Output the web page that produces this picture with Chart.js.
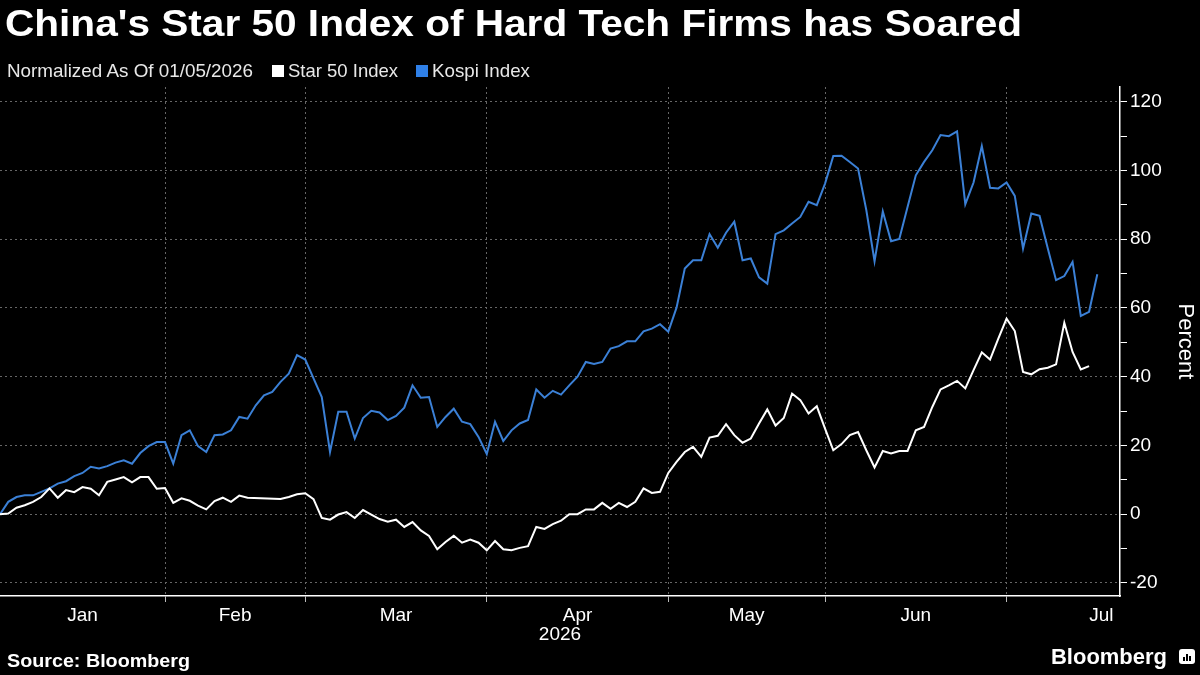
<!DOCTYPE html>
<html>
<head>
<meta charset="utf-8">
<script src="https://cdn.jsdelivr.net/npm/chart.js@4.4.1/dist/chart.umd.min.js"></script>
<style>
html, body { margin: 0; padding: 0; background: #000; }
#wrap { position: relative; width: 1200px; height: 675px; overflow: hidden; background: #000; font-family: "Liberation Sans", Arial, sans-serif; color: #fff; }
#chart { position: absolute; left: 0; top: 0; }
.txt { position: absolute; white-space: nowrap; line-height: 1; transform-origin: 0 50%; }
#title { left: 5px; top: 5px; font-size: 37.7px; font-weight: bold; }
.leg { top: 61px; font-size: 19px; color: #e8e8e8; }
.sq { position: absolute; top: 65px; width: 12px; height: 12px; }
#source { left: 7px; top: 652px; font-size: 18px; font-weight: bold; }
#brand { left: 1051px; top: 646px; font-size: 22px; font-weight: bold; }
#icon { position: absolute; left: 1179px; top: 649px; width: 16px; height: 15px; background: #fff; border-radius: 3px; }
#icon i { position: absolute; bottom: 3px; width: 2px; background: #000; }
</style>
</head>
<body>
<div id="wrap">
  <canvas id="chart" width="1200" height="675"></canvas>
  <div class="txt" id="title">China's Star 50 Index of Hard Tech Firms has Soared</div>
  <div class="txt leg" id="note" style="left:7px">Normalized As Of 01/05/2026</div>
  <div class="sq" style="left:272px;background:#fff"></div>
  <div class="txt leg" id="legStar" style="left:288px">Star 50 Index</div>
  <div class="sq" style="left:416px;background:#2f80e8"></div>
  <div class="txt leg" id="legKospi" style="left:432px">Kospi Index</div>
  <div class="txt" id="source">Source: Bloomberg</div>
  <div class="txt" id="brand">Bloomberg</div>
  <div id="icon"><i style="left:4px;height:4px"></i><i style="left:7px;height:7px"></i><i style="left:10px;height:5px"></i></div>
</div>
<script>
"use strict";

// trading-day index where each month begins (Jan 5 2026 = 0)
const monthStarts = [0, 20, 37, 59, 81, 100, 122, 145];
const monthNames = ["Jan", "Feb", "Mar", "Apr", "May", "Jun", "Jul"];
const yearLabel = "2026";

const kospi = [
	0, 3.6, 5.0, 5.5, 5.5, 6.5, 7.5, 8.9, 9.6, 11.1,
	12.0, 13.8, 13.3, 14.0, 15.0, 15.7, 14.7, 17.8, 19.8, 21.0,
	21.0, 14.7, 23.0, 24.4, 19.8, 18.1, 23.0, 23.2, 24.4, 28.3,
	27.8, 31.7, 34.6, 35.6, 38.5, 40.9, 46.3, 45.0, 39.5, 34.1,
	18.1, 29.8, 29.8, 22.0, 28.0, 30.1, 29.6, 27.4, 28.6, 31.0,
	37.5, 33.9, 34.1, 25.4, 28.3, 30.7, 26.9, 26.2, 22.5, 17.5,
	26.9, 21.3, 24.4, 26.4, 27.4, 36.3, 33.9, 35.9, 34.8, 37.5,
	40.0, 44.3, 43.7, 44.3, 48.2, 48.9, 50.3, 50.3, 53.2, 54.0,
	55.3, 53.1, 60.1, 71.5, 73.9, 73.9, 81.5, 77.5, 81.9, 85.1,
	73.9, 74.4, 68.9, 67.1, 81.5, 82.6, 84.6, 86.5, 90.9, 89.9,
	96.2, 104.2, 104.3, 102.5, 100.6, 88.5, 73.6, 88.1, 79.4, 80.1,
	89.4, 98.6, 102.5, 105.9, 110.3, 110.0, 111.4, 90.2, 96.5, 107.1,
	95.0, 94.8, 96.5, 92.6, 77.3, 87.5, 86.8, 77.3, 68.1, 69.3,
	73.4, 57.7, 58.9, 69.8
];

const star50 = [
	0, 0.2, 1.9, 2.6, 3.6, 5.0, 7.5, 4.8, 7.0, 6.4,
	7.9, 7.4, 5.5, 9.4, 10.1, 10.8, 9.3, 10.8, 10.8, 7.4,
	7.6, 3.3, 4.6, 3.9, 2.5, 1.4, 3.8, 4.8, 3.6, 5.4,
	4.8, null, null, null, 4.4, 5.0, 5.8, 6.1, 4.4, -1.1,
	-1.6, -0.1, 0.6, -1.1, 1.2, -0.1, -1.4, -2.2, -1.6, -3.7,
	-2.3, -4.7, -6.3, -10.2, -8.1, -6.3, -8.3, -7.4, -8.3, -10.5,
	-7.8, -10.2, -10.5, -9.8, -9.3, -3.7, -4.3, -2.9, -1.9, 0.0,
	0.0, 1.4, 1.4, 3.3, 1.6, 3.3, 2.1, 3.6, 7.5, 6.2,
	6.5, 12.0, 15.2, 18.1, 19.6, 16.7, 22.3, 22.8, 26.2, 23.0,
	20.8, 22.0, 26.4, 30.5, 25.8, 28.0, 35.1, 33.2, 29.3, 31.4,
	24.9, 18.6, 20.4, 23.0, 23.9, 18.6, 13.6, 18.4, 17.7, 18.4,
	18.4, 24.4, 25.4, 31.2, 36.3, 37.5, 38.8, 36.6, 41.9, 47.1,
	45.0, 51.1, 56.9, 53.3, 41.4, 40.7, 42.2, 42.6, 43.6, 55.7,
	47.2, 42.1, 43.1, null
];

const yTicks = [-20, -10, 0, 10, 20, 30, 40, 50, 60, 70, 80, 90, 100, 110, 120];

const days = kospi.map((_, i) => i);
const xMax = 135.75;
const gridGrey = "#666666";

const boundaries = monthStarts.filter(v => v > 0 && v < xMax);
const monthLabelAt = {};
monthNames.forEach((name, i) => {
	monthLabelAt[(monthStarts[i] + monthStarts[i + 1]) / 2] = name;
});

function fitText(id, width) {
	const el = document.getElementById(id);
	const w = el.getBoundingClientRect().width;
	el.style.transform = "scaleX(" + (width / w) + ")";
}
fitText("title", 1017);
fitText("note", 246);
fitText("legStar", 110);
fitText("legKospi", 98);
fitText("source", 183);
fitText("brand", 116);

const ctx = document.getElementById("chart").getContext("2d");

new Chart(ctx, {
	type: "line",
	data: {
		labels: days,
		datasets: [
			{
				label: "Star 50 Index",
				data: star50,
				borderColor: "#ffffff",
				borderWidth: 2,
				pointRadius: 0,
				spanGaps: true,
				tension: 0
			},
			{
				label: "Kospi Index",
				data: kospi,
				borderColor: "#3b80d6",
				borderWidth: 2,
				pointRadius: 0,
				tension: 0
			}
		]
	},
	options: {
		responsive: false,
		animation: false,
		layout: { padding: { top: 87, right: 2, bottom: 29, left: 0 } },
		plugins: {
			legend: { display: false },
			tooltip: { enabled: false }
		},
		scales: {
			x: {
				type: "linear",
				min: 0,
				max: xMax,
				afterBuildTicks: scale => {
					const vals = boundaries.concat(Object.keys(monthLabelAt).map(Number))
						.filter(v => v < xMax)
						.sort((a, b) => a - b);
					scale.ticks = vals.map(v => ({ value: v }));
				},
				afterFit: scale => { scale.height = 50; },
				ticks: {
					autoSkip: false,
					maxRotation: 0,
					color: "#ffffff",
					padding: 2,
					font: { family: "Liberation Sans", size: 19 },
					callback: value => monthLabelAt[value] || ""
				},
				grid: {
					color: c => boundaries.includes(c.tick && c.tick.value) ? gridGrey : "rgba(0,0,0,0)",
					tickColor: c => boundaries.includes(c.tick && c.tick.value) ? "#bbbbbb" : "rgba(0,0,0,0)",
					tickLength: 6,
					lineWidth: 1
				},
				border: { display: true, color: "#ffffff", width: 1.5, dash: [2, 3] },
				title: {
					display: true,
					text: yearLabel,
					color: "#ffffff",
					padding: { top: 0, bottom: 0 },
					font: { family: "Liberation Sans", size: 19 }
				}
			},
			y: {
				type: "linear",
				position: "right",
				min: -23.8,
				max: 124.3,
				afterBuildTicks: scale => {
					scale.ticks = yTicks.map(v => ({ value: v }));
				},
				afterFit: scale => { scale.width = 78; },
				ticks: {
					color: "#ffffff",
					padding: 3,
					font: { family: "Liberation Sans", size: 19 },
					callback: value => (value % 20 === 0 ? String(value) : "")
				},
				grid: {
					color: c => (c.tick && c.tick.value % 20 === 0) ? gridGrey : "rgba(0,0,0,0)",
					tickColor: "#ffffff",
					tickLength: 7,
					lineWidth: 1
				},
				border: { display: true, color: "#ffffff", width: 1.5, dash: [2, 3] },
				title: {
					display: true,
					text: "Percent",
					color: "#ffffff",
					padding: 0,
					font: { family: "Liberation Sans", size: 22 }
				}
			}
		}
	}
});
</script>
</body>
</html>
